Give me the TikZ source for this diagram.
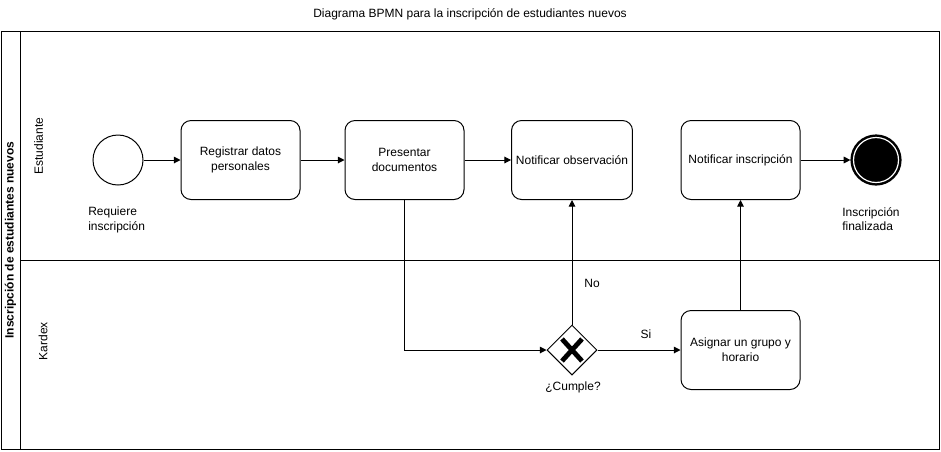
\documentclass[tikz,border=0pt]{standalone}
\usepackage{fontspec}
\setmainfont{Liberation Sans}
\usetikzlibrary{shapes.geometric,arrows.meta,calc}
\begin{document}
\begin{tikzpicture}[x=0.75pt,y=-0.75pt,
  every node/.style={font=\fontsize{9}{11}\selectfont, text=black},
  task/.style={draw, rounded corners=7.5pt, minimum width=89.25pt, minimum height=59.25pt, align=center, line width=0.75pt},
  startev/.style={draw, circle, minimum size=37.5pt, inner sep=0pt, line width=0.75pt},
  endev/.style={draw, circle, fill=black, minimum size=36pt, inner sep=0pt, line width=2.4pt},
  gate/.style={draw, diamond, minimum width=37.5pt, minimum height=37.5pt, inner sep=0pt, line width=0.75pt},
  flow/.style={-{Triangle[width=5pt,length=5pt]}, line width=0.75pt},
  lbl/.style={align=left, anchor=north west, inner sep=0pt}
]
\useasboundingbox (0,0) rectangle (941,451);
\fill[white] (0,0) rectangle (941,451);
% title
\node (title) at (470,14) {Diagrama BPMN para la inscripción de estudiantes nuevos};
% pool and lanes
\draw[line width=0.75pt] (1,31) rectangle (939,449);
\draw[line width=0.75pt] (20,31) -- (20,449);
\draw[line width=0.75pt] (20,260) -- (939,260);
\node[rotate=90, font=\fontsize{9}{11}\selectfont\bfseries] (pool) at (10.5,240) {Inscripción de estudiantes nuevos};
\node[rotate=90] (lane1) at (38.5,146) {Estudiante};
\node[rotate=90] (lane2) at (43,341) {Kardex};
% nodes
\node[startev] (start) at (118,160) {};
\node[task] (t1) at (240.5,160) {Registrar datos\\personales};
\node[task] (t2) at (404.5,160) {Presentar\\documentos};
\node[task] (t3) at (572,160) {Notificar observación};
\node[task] (t4) at (740.5,160) {Notificar inscripción};
\node[endev] (end) at (876,160) {};
\draw[white, line width=0.9pt] (end.center) circle[radius=22.5];
\node[gate] (gw) at (572,350) {};
\draw[line width=3.6pt] ($(gw.center)+(-10,-11)$) -- ($(gw.center)+(10,11)$);
\draw[line width=3.6pt] ($(gw.center)+(-10,11)$) -- ($(gw.center)+(10,-11)$);
\node[task] (t5) at (740.5,350) {Asignar un grupo y\\horario};
% labels
\node[lbl] (l1) at (88,207) {Requiere\\inscripción};
\node[lbl] (l2) at (842,207) {Inscripción\\finalizada};
\node (l3) at (573,387) {¿Cumple?};
\node (l4) at (592,283) {No};
\node (l5) at (646,334) {Si};
% flows
\draw[flow] (start) -- (t1);
\draw[flow] (t1) -- (t2);
\draw[flow] (t2) -- (t3);
\draw[flow] (t4) -- (end);
\draw[flow] (t2.south) |- (gw.west);
\draw[flow] (gw.north) -- (t3.south);
\draw[flow] (gw.east) -- (t5.west);
\draw[flow] (t5.north) -- (t4.south);
\end{tikzpicture}
\end{document}
